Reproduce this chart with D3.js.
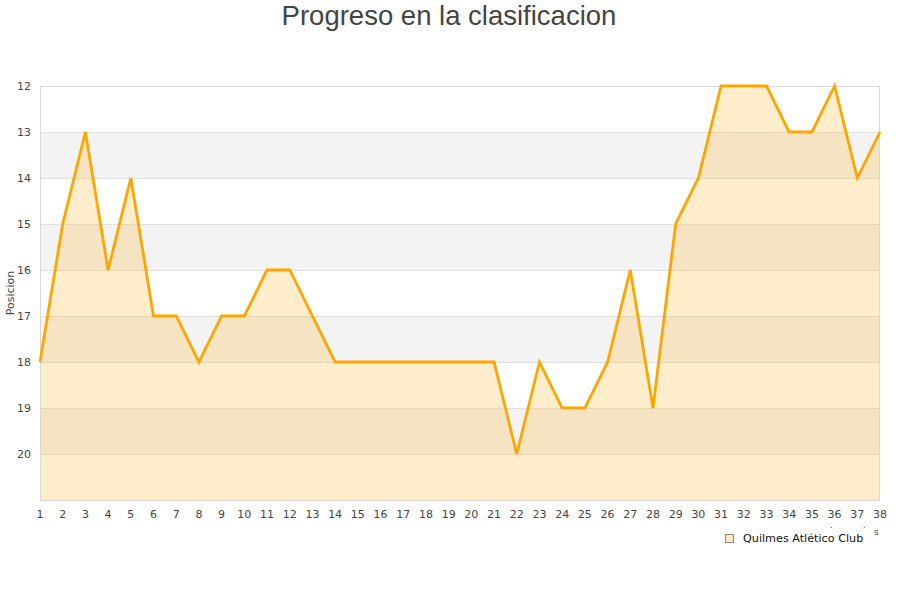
<!DOCTYPE html>
<html><head><meta charset="utf-8">
<script src="https://cdn.jsdelivr.net/npm/d3@7"></script>
<style>body{margin:0;background:#fff}svg{display:block}</style>
</head><body>
<svg id="c" width="900" height="600"></svg>
<script>
const jornadas = d3.range(1, 39);
const posiciones = [18,15,13,16,14,17,17,18,17,17,16,16,17,18,18,18,18,18,18,18,18,20,18,19,19,18,16,19,15,14,12,12,12,13,13,12,14,13];
const yTicks = [12,13,14,15,16,17,18,19,20];
const bandas = [13,15,17,19];
const titulo = "Progreso en la clasificacion";
const serie = "Quilmes Atlético Club";

const svg = d3.select("#c");
const m = {l:40, r:880, t:86, b:500};
const x = d3.scaleLinear().domain([1,38]).range([m.l, m.r]);
const y = d3.scaleLinear().domain([12,21]).range([m.t, m.b]);
const data = jornadas.map((j,i)=>({j, p: posiciones[i]}));

svg.selectAll("rect.band").data(bandas).enter().append("rect")
  .attr("x", m.l).attr("width", m.r-m.l)
  .attr("y", d=>y(d)).attr("height", d=>y(d+1)-y(d))
  .attr("fill", "#f3f3f3");
svg.selectAll("line.grid").data(yTicks.slice(1)).enter().append("line")
  .attr("x1", m.l).attr("x2", m.r).attr("y1", d=>y(d)+0.5).attr("y2", d=>y(d)+0.5)
  .attr("stroke", "#e0e0e0").attr("stroke-width",1);
svg.append("path").datum(data)
  .attr("d", d3.area().x(d=>x(d.j)).y0(y(21)).y1(d=>y(d.p)))
  .attr("fill", "#ffa500").attr("fill-opacity", 0.2);
svg.append("rect").attr("x", m.l+0.5).attr("y", m.t+0.5).attr("width", m.r-m.l-1).attr("height", m.b-m.t)
  .attr("fill","none").attr("stroke","#d8d8d8");
svg.append("path").datum(data)
  .attr("d", d3.line().x(d=>x(d.j)).y(d=>y(d.p)))
  .attr("fill","none").attr("stroke","#ffa500").attr("stroke-width",2.8).attr("stroke-linejoin","miter");

const font = "DejaVu Sans, sans-serif";
svg.selectAll("text.yt").data(yTicks).enter().append("text")
  .attr("x", 31).attr("y", d=>y(d)).attr("dy","0.35em")
  .attr("text-anchor","end").attr("font-family",font).attr("font-size",11).attr("fill","#444")
  .text(d=>d);
svg.selectAll("text.xt").data(jornadas).enter().append("text")
  .attr("x", d=>x(d)).attr("y", 518)
  .attr("text-anchor","middle").attr("font-family",font).attr("font-size",11).attr("fill","#444")
  .text(d=>d);
svg.append("text").attr("transform","translate(14,293) rotate(-90)")
  .attr("text-anchor","middle").attr("font-family",font).attr("font-size",11).attr("fill","#444")
  .text("Posicion");
svg.append("text").attr("x",449).attr("y",25).attr("text-anchor","middle")
  .attr("font-family","Liberation Sans, Arial, sans-serif").attr("font-size",27.5).attr("fill","#444")
  .text(titulo);
svg.append("rect").attr("x",725.5).attr("y",534.5).attr("width",8).attr("height",8)
  .attr("fill","#ffe8c0").attr("stroke","#888").attr("stroke-width",1);
svg.append("text").attr("x",743).attr("y",542).attr("font-family",font).attr("font-size",11.2).attr("fill","#111")
  .text(serie);
svg.append("text").attr("x",874).attr("y",535).attr("font-family",font).attr("font-size",9).attr("fill","#444").text("s");
svg.append("text").attr("x",830).attr("y",528).attr("font-family",font).attr("font-size",8).attr("fill","#444").text(".");
svg.append("text").attr("x",863).attr("y",528).attr("font-family",font).attr("font-size",8).attr("fill","#444").text(".");
</script>
</body></html>
